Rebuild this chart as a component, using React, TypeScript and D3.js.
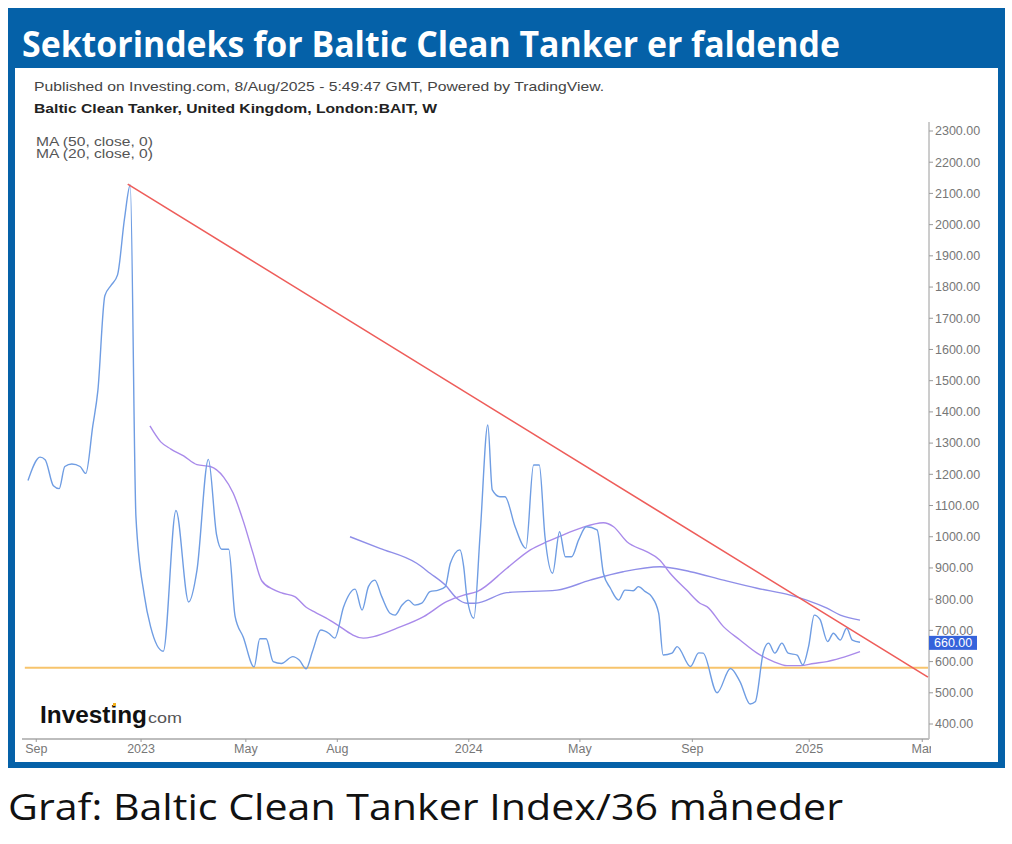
import React from "react";
import * as d3 from "d3";

// ---- data (week offsets from first bar, index values) ----
const priceWeeks = [0,1.9,2.7,4.0,4.9,5.8,6.9,8.2,9.1,10.2,11.0,12.1,13.1,14.1,15.2,16.1,17.0,18.3,19.3,21.3,23.3,25.3,26.6,28.4,29.7,30.5,31.6,32.6,33.9,35.6,36.5,37.5,38.6,39.9,41.7,42.7,43.8,44.8,46.1,47.4,48.3,49.7,51.5,52.6,53.6,54.6,55.7,57.0,57.8,58.9,59.9,60.9,62.0,63.3,64.6,65.7,66.5,68.0,68.6,69.1,70.2,71.2,72.4,73.1,74.3,75.1,76.7,78.4,79.6,80.5,81.4,82.6,83.7,84.6,85.6,86.7,87.9,89.6,90.6,91.7,93.0,94.0,95.3,96.1,97.2,98.2,99.3,100.0,101.4,102.2,104.3,105.6,106.3,108.5,110.6,112.1,113.7,114.5,115.8,116.6,117.6,118.7,119.7,121.1,122.0,122.9,123.8,124.7,125.9,126.8,127.9,128.9,129.8,131.0];
const priceValues = [1180,1255,1247,1163,1154,1225,1233,1225,1203,1355,1468,1772,1806,1839,2020,2127,1062,814,712,633,1084,791,892,1248,1005,960,960,746,678,583,673,673,600,594,616,605,577,633,701,690,675,776,832,765,840,861,808,755,749,781,797,781,787,824,829,840,915,958,904,808,739,1012,1358,1150,1128,1128,1032,963,1230,1230,1000,883,1016,936,936,990,1032,1022,883,835,797,829,827,840,824,808,755,621,627,648,584,628,627,500,578,536,464,471,632,659,627,659,627,621,589,648,749,735,664,691,669,707,669,662];

const ma20Weeks = [19.2,20.9,22.5,24.5,26.6,28.7,30.8,32.3,33.9,35.4,36.8,38.6,40.1,42.0,43.8,45.3,46.9,48.2,52.8,54.4,58.1,62.3,65.9,68.6,70.7,75.4,79.1,81.7,83.8,86.9,90.6,92.2,94.3,97.4,99.5,101.1,103.7,105.8,106.9,109.5,112.1,114.8,117.4,119.5,121.6,123.7,125.8,127.9,131.0];
const ma20Values = [1355,1304,1281,1259,1231,1225,1191,1140,1050,949,859,831,819,808,774,757,740,724,675,680,707,744,792,813,824,899,958,984,1002,1027,1045,1032,984,952,925,883,829,787,776,712,669,627,600,587,587,594,600,611,632];

const ma50Weeks = [50.7,55.4,61.2,63.3,65.7,67.5,69.1,70.4,75.4,83.3,88.5,93.7,99.5,104.3,109.5,114.8,120.0,122.6,125.8,127.9,131.0];
const ma50Values = [1000,963,915,883,845,803,787,787,821,829,861,888,904,888,861,835,813,797,771,749,733];

const trendWeeks = [15.7, 141.7];
const trendValues = [2130, 550];
const supportWeeks = [-0.5, 141.7];
const supportValues = [580, 580];

const yTicks = [400,500,600,700,800,900,1000,1100,1200,1300,1400,1500,1600,1700,1800,1900,2000,2100,2200,2300];
const xTickWeeks = [1.3, 17.8, 34.3, 48.7, 69.4, 86.9, 104.6, 123.0, 140.8];
const xTickLabels = ["Sep", "2023", "May", "Aug", "2024", "May", "Sep", "2025", "Mar"];
const lastValue = 660;

const title = "Sektorindeks for Baltic Clean Tanker er faldende";
const published = "Published on Investing.com, 8/Aug/2025 - 5:49:47 GMT, Powered by TradingView.";
const subtitle = "Baltic Clean Tanker, United Kingdom, London:BAIT, W";
const legend = ["MA (50, close, 0)", "MA (20, close, 0)"];
const caption = "Graf: Baltic Clean Tanker Index/36 måneder";

export default function App() {
  const W = 1012, H = 844;
  const plotL = 22, plotR = 929, plotT = 122, plotB = 739;
  const x = d3.scaleLinear().domain([0, 131]).range([28, 860]);
  const y = d3.scaleLinear().domain([400, 2300]).range([724, 131]);

  const mk = (ws: number[], vs: number[]) => ws.map((w, i) => [w, vs[i]] as [number, number]);
  const smooth = d3.line<[number, number]>().x(d => x(d[0])).y(d => y(d[1])).curve(d3.curveMonotoneX);
  const straight = d3.line<[number, number]>().x(d => x(d[0])).y(d => y(d[1]));

  const sans = "'Liberation Sans', Arial, sans-serif";
  const blue = "#0561a8";

  return (
    <svg width={W} height={H} style={{ position: "absolute", left: 0, top: 0, background: "#fff" }}>
      <defs>
        <clipPath id="plot">
          <rect x={plotL} y={plotT} width={plotR - plotL} height={plotB - plotT} />
        </clipPath>
        <clipPath id="xlab">
          <rect x={plotL} y={plotB} width={plotR - plotL + 2} height={30} />
        </clipPath>
      </defs>
      <rect x={0} y={0} width={W} height={H} fill="#fff" />
      {/* frame */}
      <rect x={8} y={8} width={997} height={760} fill={blue} />
      <rect x={15} y={68} width={983} height={694} fill="#fff" />
      <text x={22} y={57} fill="#fff" fontFamily="'Open Sans', sans-serif" fontWeight={700} fontSize={36}
        textLength={818} lengthAdjust="spacingAndGlyphs">{title}</text>

      <text x={34} y={91} fontFamily={sans} fontSize={13.5} fill="#444"
        textLength={570} lengthAdjust="spacingAndGlyphs">{published}</text>
      <text x={34} y={113} fontFamily={sans} fontSize={13.5} fontWeight={700} fill="#222"
        textLength={403} lengthAdjust="spacingAndGlyphs">{subtitle}</text>
      {legend.map((t, i) => (
        <text key={i} x={36} y={146 + i * 12} fontFamily={sans} fontSize={12.5} fill="#555"
          textLength={117} lengthAdjust="spacingAndGlyphs">{t}</text>
      ))}

      {/* axes */}
      <line x1={plotR} x2={plotR} y1={plotT} y2={plotB} stroke="#9a9a9a" strokeWidth={1} />
      <line x1={plotL} x2={plotR} y1={plotB} y2={plotB} stroke="#bdbdbd" strokeWidth={2} />
      {yTicks.map(t => (
        <g key={t}>
          <line x1={plotR} x2={plotR + 4} y1={y(t)} y2={y(t)} stroke="#9a9a9a" />
          <text x={935} y={y(t)} dy="0.35em" fontFamily={sans} fontSize={12.5} fill="#777">{t.toFixed(2)}</text>
        </g>
      ))}
      <g clipPath="url(#xlab)">
        {xTickWeeks.map((w, i) => (
          <g key={i}>
            <line x1={x(w)} x2={x(w)} y1={plotB - 3} y2={plotB + 3} stroke="#9a9a9a" />
            <text x={x(w)} y={753} textAnchor="middle" fontFamily={sans} fontSize={12.5} fill="#777">{xTickLabels[i]}</text>
          </g>
        ))}
      </g>

      {/* series */}
      <g clipPath="url(#plot)" fill="none">
        <path d={straight(mk(supportWeeks, supportValues)) || ""} stroke="#f7c46c" strokeWidth={2} />
        <path d={smooth(mk(ma50Weeks, ma50Values)) || ""} stroke="#8f8ee8" strokeWidth={1.4} />
        <path d={smooth(mk(ma20Weeks, ma20Values)) || ""} stroke="#a98aea" strokeWidth={1.4} />
        <path d={smooth(mk(priceWeeks, priceValues)) || ""} stroke="#6f9de3" strokeWidth={1.4} />
        <path d={straight(mk(trendWeeks, trendValues)) || ""} stroke="#ee5d5a" strokeWidth={1.6} />
      </g>

      {/* last price label */}
      <rect x={plotR} y={y(lastValue) - 7} width={48} height={14} fill="#3563db" />
      <text x={934} y={y(lastValue)} dy="0.35em" fontFamily={sans} fontSize={12.5} fill="#fff">{lastValue.toFixed(2)}</text>

      {/* logo */}
      <text x={40} y={723} fontFamily={sans} fontWeight={700} fontSize={23} fill="#111"
        textLength={107} lengthAdjust="spacingAndGlyphs">Investing</text>
      <text x={148} y={723} fontFamily={sans} fontSize={15} fill="#555"
        textLength={34} lengthAdjust="spacingAndGlyphs">com</text>
      <rect x={113} y={703} width={3} height={3} fill="#f3b11b" />

      <text x={8} y={820} fontFamily="'Open Sans', sans-serif" fontSize={36} fill="#111"
        textLength={835} lengthAdjust="spacingAndGlyphs">{caption}</text>
    </svg>
  );
}
